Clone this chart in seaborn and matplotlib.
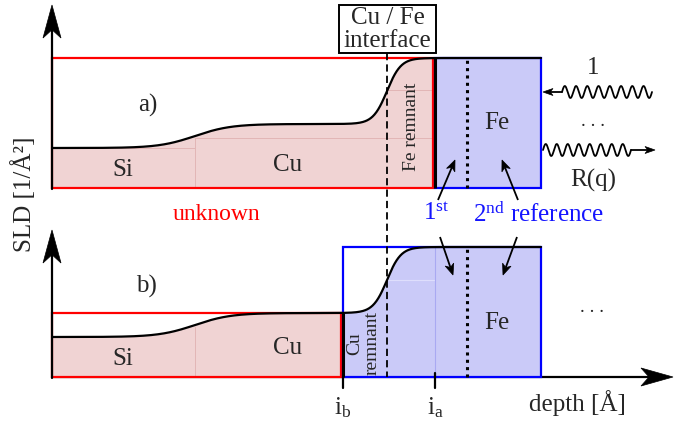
import numpy as np
import pandas as pd
import matplotlib
matplotlib.use("Agg")
import matplotlib.pyplot as plt
from matplotlib.patches import Rectangle, Polygon
import seaborn as sns

# ---- layer model (schematic depth units, SLD in arbitrary units) ----
layer_names = ["Si", "Cu", "Fe"]
layer_sld = [40, 64, 130]
interface_depth = [143, 335]      # Si/Cu and Cu/Fe interfaces
interface_width = [36, 14]        # roughness of each interface
fe_end = 489                      # end of the Fe reference layer
depth_ia = 383                    # first reference boundary in a)
depth_ib = 291                    # first reference boundary in b)
depth_ref2 = 415                  # second reference boundary
tick_depths = [depth_ib, depth_ia]
tick_labels = [r"$\mathrm{i}_\mathrm{b}$", r"$\mathrm{i}_\mathrm{a}$"]

# ---- styling ----
sns.set_theme(style="white")
plt.rcParams["font.family"] = ["Liberation Serif", "DejaVu Serif"]
plt.rcParams["mathtext.fontset"] = "custom"
plt.rcParams["mathtext.rm"] = "Liberation Serif"
plt.rcParams["mathtext.it"] = "Liberation Serif:italic"

RED = "#ff0000"
BLUE = "#0000ff"
PINK_FILL = "#f0d3d3"
BLUE_FILL = "#cacaf8"
TXT_BLUE = "#1414ff"
X0 = 52                           # left margin of the origin
W, H = 676, 421

fig = plt.figure(figsize=(W / 100, H / 100), dpi=100)
ax = fig.add_axes([0, 0, 1, 1])
ax.set_xlim(-X0, W - X0)
ax.set_ylim(H, 0)
ax.axis("off")


def profile(z):
    s = np.full_like(z, layer_sld[0], dtype=float)
    for k, (zi, wi) in enumerate(zip(interface_depth, interface_width)):
        s += (layer_sld[k + 1] - layer_sld[k]) * 0.5 * (1 + np.tanh((z - zi) / wi))
    return s


def stealth(tip, direction, length, half_width, indent=0.28, color="black", z=6):
    tx, ty = tip
    dx, dy = direction
    n = np.hypot(dx, dy)
    dx, dy = dx / n, dy / n
    px, py = -dy, dx
    bx, by = tx - dx * length, ty - dy * length
    mx, my = tx - dx * length * (1 - indent), ty - dy * length * (1 - indent)
    pts = [(tx, ty), (bx + px * half_width, by + py * half_width), (mx, my),
           (bx - px * half_width, by - py * half_width)]
    ax.add_patch(Polygon(pts, closed=True, facecolor=color, edgecolor=color,
                         lw=0.5, zorder=z))
    return mx, my


def arrow(tail, tip, length=11, half_width=4.5, lw=1.3, z=6):
    mx, my = stealth(tip, (tip[0] - tail[0], tip[1] - tail[1]), length, half_width, z=z)
    ax.plot([tail[0], mx], [tail[1], my], color="black", lw=lw, zorder=z,
            solid_capstyle="butt")


z = np.linspace(0, fe_end, 800)
prof = profile(z)

# ---- panel construction ----
def draw_panel(base, unknown_end, ref_start):
    y = base - prof
    unk = z <= unknown_end - 2
    ref = z >= ref_start
    ax.fill_between(z[unk], base, y[unk], color=PINK_FILL, lw=0, zorder=1)
    ax.fill_between(z[ref], base, y[ref], color=BLUE_FILL, lw=0, zorder=1)
    top_unknown = base - (layer_sld[2] if unknown_end > interface_depth[1] else layer_sld[1])
    ax.add_patch(Rectangle((0, top_unknown), unknown_end - 2, base - top_unknown,
                           fill=False, edgecolor=RED, lw=1.6, zorder=3))
    ax.add_patch(Rectangle((ref_start, base - layer_sld[2]), fe_end - ref_start,
                           layer_sld[2], fill=False, edgecolor=BLUE, lw=1.6, zorder=3))
    df = pd.DataFrame({"depth": z, "sld": y})
    sns.lineplot(data=df, x="depth", y="sld", ax=ax, color="black", lw=1.6,
                 estimator=None, sort=False, zorder=5)
    ax.plot([ref_start, ref_start], [base, base - profile(np.array([ref_start]))[0]],
            color="black", lw=2.2, zorder=5, solid_capstyle="butt")
    ax.plot([depth_ref2, depth_ref2], [base, base - layer_sld[2]], color="black",
            lw=2.2, ls=(0, (1, 1.4)), zorder=4)
    # faint layer outlines inside the fills
    ax.plot([interface_depth[0]] * 2, [base, base - layer_sld[0] - 10],
            color="#e2b6b6", lw=0.7, zorder=2)
    return base


base_a = draw_panel(188, 383, depth_ia)
base_b = draw_panel(377, depth_ib, depth_ib)
ax.plot([0, interface_depth[0]], [148, 148], color="#e2b6b6", lw=0.7, zorder=2)
ax.plot([interface_depth[0], 381], [138, 138], color="#e2b6b6", lw=0.7, zorder=2)
ax.plot([interface_depth[1], 381], [90, 90], color="#e2b6b6", lw=0.7, zorder=2)
ax.plot([interface_depth[1], depth_ia], [280, 280], color="#dedefc", lw=0.8, zorder=2)
ax.plot([depth_ia, depth_ia], [base_b - layer_sld[2], base_b], color="#a9a9f2",
        lw=0.8, zorder=2)

# ---- axes arrows ----
for base, tip in ((base_a, 5), (base_b, 230)):
    mx, my = stealth((0, tip), (0, -1), 33, 9, indent=0.25, z=7)
    ax.plot([0, 0], [base + 0.5, my], color="black", lw=1.6, zorder=7)
mx, my = stealth((W - X0 - 3, base_b), (1, 0), 32, 9, indent=0.25, z=0)
ax.plot([0, mx], [base_b, base_b], color="black", lw=1.6, zorder=0)

for d, lab in zip(tick_depths, tick_labels):
    ax.plot([d, d], [base_b - (4 if d == depth_ia else 0), base_b + 11],
            color="black", lw=1.6, zorder=6)
    ax.text(d, 408, lab, ha="center", va="center", fontsize=18)

ax.text(525, 403, "depth [Å]", ha="center", va="center", fontsize=18)
ax.text(-28, 194, "SLD [1/Å²]", ha="center", va="center", fontsize=18, rotation=90)

# ---- interface marker ----
ax.add_patch(Rectangle((287, 5), 97, 48, facecolor="white", edgecolor="black",
                       lw=1.4, zorder=6))
ax.text(335.5, 18, "Cu / Fe", ha="center", va="center", fontsize=18, zorder=7)
ax.text(335.5, 41, "interface", ha="center", va="center", fontsize=18, zorder=7)
ax.plot([interface_depth[1]] * 2, [53, base_b], color="black", lw=1.3,
        ls=(0, (4, 2.3)), zorder=4)

# ---- layer labels ----
ax.text(96, 105, "a)", ha="center", va="center", fontsize=18)
ax.text(94, 286, "b)", ha="center", va="center", fontsize=18)
for base, cu_y in ((base_a, 165), (base_b, 348)):
    ax.text(71, base - 18 - (0 if base == base_a else 0), "Si", ha="center",
            va="center", fontsize=18, zorder=6)
    ax.text(236, cu_y, "Cu", ha="center", va="center", fontsize=18, zorder=6)
ax.text(445, 123, "Fe", ha="center", va="center", fontsize=18, zorder=6)
ax.text(445, 323, "Fe", ha="center", va="center", fontsize=18, zorder=6)
ax.text(360, 127, "Fe remnant", ha="center", va="center", fontsize=14,
        rotation=90, zorder=6)
ax.text(303, 344, "Cu", ha="center", va="center", fontsize=14, rotation=90, zorder=6)
ax.text(320, 343, "remnant", ha="center", va="center", fontsize=14,
        rotation=90, zorder=6)
ax.text(164, 215, "unknown", ha="center", va="center", fontsize=17, color=RED)
ax.text(384, 214, r"$1^{\mathrm{st}}$", ha="center", va="center", fontsize=18,
        color=TXT_BLUE)
ax.text(487, 215, r"$2^{\mathrm{nd}}$ reference", ha="center", va="center",
        fontsize=18, color=TXT_BLUE)

# reference pointers
arrow((386, 200), (403, 160))
arrow((466, 200), (450, 160))
arrow((388, 237), (401, 275))
arrow((465, 237), (451, 275))

# ---- incoming / reflected beam ----
ax.text(541, 68, "1", ha="center", va="center", fontsize=18)
ax.text(541, 122, ". . .", ha="center", va="center", fontsize=14)
ax.text(541, 180, "R(q)", ha="center", va="center", fontsize=18)
ax.text(540, 308, ". . .", ha="center", va="center", fontsize=14)

wx = np.linspace(0, 1, 400)
wave_top_x = 510 + 90 * wx
ax.plot(wave_top_x, 92 - 6 * np.sin(2 * np.pi * 8 * wx), color="black", lw=1.3)
mx, my = stealth((491, 92), (-1, 0), 10, 3.5)
ax.plot([mx, 510], [92, 92], color="black", lw=1.3)
wave_bot_x = 491 + 88 * wx
ax.plot(wave_bot_x, 150 - 6 * np.sin(2 * np.pi * 8 * wx), color="black", lw=1.3)
mx, my = stealth((603, 150), (1, 0), 10, 3.5)
ax.plot([579, mx], [150, 150], color="black", lw=1.3)

ax.set_xlabel("")
ax.set_ylabel("")
fig.savefig("out.png", dpi=100)
